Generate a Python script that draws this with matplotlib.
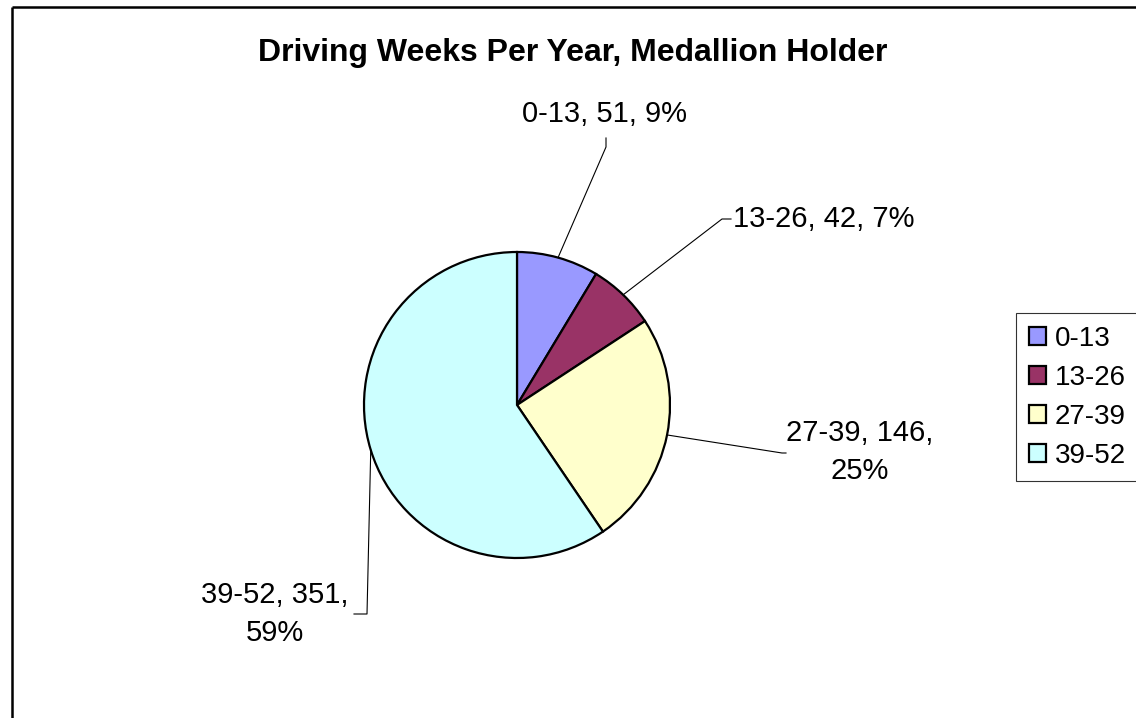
import numpy as np
import matplotlib
matplotlib.use("Agg")
import matplotlib.pyplot as plt

W, H = 1136, 718

title = "Driving Weeks Per Year, Medallion Holder"
categories = ["0-13", "13-26", "27-39", "39-52"]
values = [51, 42, 146, 351]
percents = ["9%", "7%", "25%", "59%"]
colors = ["#9999FF", "#993366", "#FFFFCC", "#CCFFFF"]

plt.rcParams['font.family'] = ['Liberation Sans', 'DejaVu Sans']

fig = plt.figure(figsize=(W / 100, H / 100), dpi=100)
ax = fig.add_axes([0, 0, 1, 1])

cx, cy, r = 517, 405, 153
wedges, _ = ax.pie(values, colors=colors, startangle=-90, counterclock=True,
                   center=(cx, cy), radius=r,
                   wedgeprops=dict(edgecolor='black', linewidth=1.6))
ax.set_xlim(0, W)
ax.set_ylim(H, 0)
ax.set_aspect('equal')
ax.axis('off')

# figure border (chart area frame, cut off at right/bottom)
ax.plot([12, W + 5], [7, 7], color='black', lw=1.8, solid_capstyle='butt')
ax.plot([12, 12], [7, H + 5], color='black', lw=1.8, solid_capstyle='butt')

ax.text(573, 53, title, ha='center', va='center', fontsize=23, fontweight='bold')

layouts = [
    dict(path=[(606, 147), (606, 138)], xy=(605, 114), ha='center', wrap=False),
    dict(path=[(722, 219), (731, 219)], xy=(733, 219), ha='left', wrap=False),
    dict(path=[(782, 453), (786, 453)], xy=(860, 452), ha='center', wrap=True),
    dict(path=[(367, 614), (354, 614)], xy=(275, 614), ha='center', wrap=True),
]

for w, cat, v, p, lay in zip(wedges, categories, values, percents, layouts):
    m = np.deg2rad((w.theta1 + w.theta2) / 2)
    ax_, ay_ = cx + r * np.cos(m), cy + r * np.sin(m)
    xs = [ax_] + [pt[0] for pt in lay['path']]
    ys = [ay_] + [pt[1] for pt in lay['path']]
    ax.plot(xs, ys, color='black', lw=0.8)
    sep = ",\n" if lay['wrap'] else ", "
    txt = f"{cat}, {v}{sep}{p}"
    ax.text(lay['xy'][0], lay['xy'][1], txt, ha=lay['ha'], va='center',
            multialignment='center', fontsize=21, linespacing=1.45)

leg = ax.legend(wedges, categories, loc='upper left',
                bbox_to_anchor=(1016 / W, 1 - 313 / H), bbox_transform=fig.transFigure,
                borderaxespad=0, fontsize=20, frameon=True, fancybox=False,
                handlelength=0.64, handleheight=0.64, handletextpad=0.3,
                labelspacing=0.47, borderpad=0.45)
leg.get_frame().set_edgecolor('black')
leg.get_frame().set_linewidth(0.8)

fig.savefig("out.png", dpi=100, facecolor='white')
